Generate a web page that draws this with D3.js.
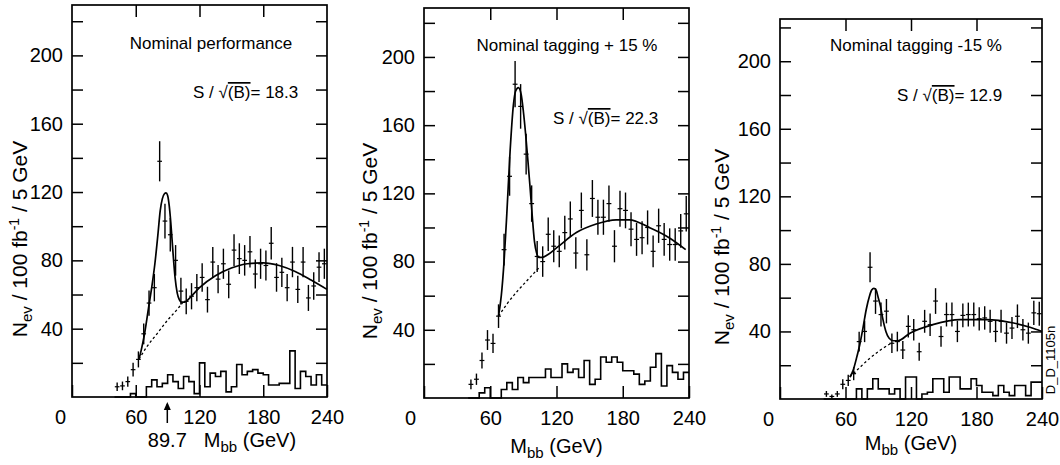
<!DOCTYPE html>
<html>
<head>
<meta charset="UTF-8">
<script src="https://d3js.org/d3.v7.min.js"></script>
<style>
  body { margin: 0; background: #fff; }
  svg text { font-family: "Liberation Sans", Arial, sans-serif; fill: #000; }
  .frame { fill: none; stroke: #000; stroke-width: 1.7; }
  .axis path { display: none; }
  .axis line { stroke: #000; stroke-width: 1.5; }
  .axis text { font-size: 20px; font-family: "Liberation Sans", Arial, sans-serif; }
</style>
</head>
<body>
<svg id="chart" width="1060" height="465"></svg>
<script>
// bin centres (5 GeV bins)
const binCenters = [42.5, 47.5, 52.5, 57.5, 62.5, 67.5, 72.5, 77.5, 82.5, 87.5,
  92.5, 97.5, 102.5, 107.5, 112.5, 117.5, 122.5, 127.5, 132.5, 137.5,
  142.5, 147.5, 152.5, 157.5, 162.5, 167.5, 172.5, 177.5, 182.5, 187.5,
  192.5, 197.5, 202.5, 207.5, 212.5, 217.5, 222.5, 227.5, 232.5, 237.5];

// events per bin, one list per panel
const counts1 = [6, 6.5, 9, 16, 22, 37, 55, 64, 138, 103,
  95, 80, 62, 56, 59, 64, 70, 57, 79, 69,
  78, 66, 86, 81, 80, 85, 72, 78, 77, 90,
  70, 73, 64, 79, 63, 79, 58, 65, 76, 78];
const counts2 = [8, 11, 22, 34, 32, 48, 87, 130, 184, 171,
  143, 114, 83, 80, 96, 89, 86, 97, 105, 85,
  110, 84, 117, 106, 106, 114, 89, 111, 110, 99,
  93, 94, 100, 86, 101, 93, 90, 90, 98, 108];
const counts3 = [3, 1.5, 3, 8.7, 11, 15, 34, 40, 78, 58,
  50, 52, 33, 34, 29, 43, 41, 28, 46, 44,
  58, 37, 50, 50, 40, 49.5, 50, 50, 47.5, 48,
  46, 40, 46, 39, 42, 49, 41, 39, 51, 50.5];

// signal-region histograms (same 40 bins)
const hist1 = [0, 0, 0, 2, 0, 0, 6, 10, 6, 8,
  13, 9, 5, 12, 9, 2, 20, 6, 14, 12,
  15, 3, 6, 19, 13, 15, 16, 14, 13, 7,
  7, 8, 8, 27, 5, 15, 12, 7, 13, 7];
const hist2 = [0, 0, 3, 6, 0, 0, 5, 9, 5, 12,
  9, 12, 12, 12, 17, 12, 12, 20, 15, 17,
  12, 22, 8, 11, 24, 21, 24, 21, 16, 16,
  14, 8, 10, 18, 26, 7, 19, 15, 11, 15];
const hist3 = [0, 0, 0, 0, 0, 0, 6, 0, 6, 12,
  6, 6, 3, 6, 0, 13, 13, 0, 3, 4,
  12, 12, 4, 13, 13, 6, 6, 12, 8, 4,
  4, 2, 8, 4, 2, 8, 8, 2, 10, 10];

// fitted curves
const fit1X = [63, 65, 68, 72, 75, 78, 81, 83, 85, 87, 88.5, 90, 91.5, 93, 95, 97, 99, 101, 103, 106, 110, 120, 135, 150, 165, 180, 195, 210, 225, 240];
const fit1Y = [22, 27, 36, 52, 64, 78, 96, 109, 116, 119, 119.5, 118, 112, 102, 85, 70, 61, 57, 55.5, 55.5, 57.5, 64, 71, 75.5, 78, 78.5, 77, 73.5, 68.5, 63];
const bkg1X = [63, 70, 80, 90, 100, 105];
const bkg1Y = [22, 29, 37, 45, 52, 56];

const fit2X = [67.5, 70, 72.5, 75, 78, 81, 83, 85.5, 88, 90, 92, 94, 96, 98, 100, 102, 104, 107, 112, 120, 138, 156, 174, 186, 204, 222, 237];
const fit2Y = [48, 60, 80, 108, 145, 172, 180, 182, 178, 168, 155, 140, 124, 107, 92, 85, 82.5, 82.5, 84, 88, 97, 102, 104.5, 104.5, 100, 94, 87];
const bkg2X = [67.5, 75, 85, 95, 105];
const bkg2Y = [48, 55, 63, 70, 77];

const fit3X = [64, 67, 70, 73, 76, 79, 82, 84, 86, 88, 90, 92, 94, 97, 100, 104, 108, 119, 140, 165, 189, 214, 229, 240];
const fit3Y = [13, 17, 24, 32, 42, 53, 61, 64.5, 65.5, 64.5, 60, 55, 48, 40, 36, 34.5, 34.5, 39, 44, 47, 47, 45, 42.5, 40];
const bkg3X = [64, 72, 82, 92, 103];
const bkg3Y = [13, 18, 24, 29, 33.5];

const titles = ["Nominal performance", "Nominal tagging + 15 %", "Nominal tagging -15 %"];
const significance = ["18.3", "22.3", "12.9"];
const xTicks = [0, 60, 120, 180, 240];
const yTicks = [20, 40, 60, 80, 100, 120, 140, 160, 180, 200, 220];
const peakMass = 89.7;

const svg = d3.select("#chart");

// frame geometry of the three panels
const layout = [
  { left: 72, right: 327, top: 5, bottom: 397, yMax: 229.5, yLabelX: 27, title: [211, 49], sig: [193, 98], zeroDx: -12 },
  { left: 424, right: 689, top: 8, bottom: 398, yMax: 228.7, yLabelX: 377, title: [567, 51], sig: [553, 124], zeroDx: -14 },
  { left: 780, right: 1042, top: 19, bottom: 399, yMax: 225, yLabelX: 729, title: [916, 51], sig: [897, 101], zeroDx: -12 }
];

const panels = [
  { counts: counts1, hist: hist1, fitX: fit1X, fitY: fit1Y, bkgX: bkg1X, bkgY: bkg1Y },
  { counts: counts2, hist: hist2, fitX: fit2X, fitY: fit2Y, bkgX: bkg2X, bkgY: bkg2Y },
  { counts: counts3, hist: hist3, fitX: fit3X, fitY: fit3Y, bkgX: bkg3X, bkgY: bkg3Y }
];

panels.forEach((p, i) => {
  const L = layout[i];
  const x = d3.scaleLinear().domain([0, 240]).range([L.left, L.right]);
  const y = d3.scaleLinear().domain([0, L.yMax]).range([L.bottom, L.top]);
  const g = svg.append("g");

  // histogram as steps
  const steps = [];
  binCenters.forEach((c, k) => {
    steps.push([c - 2.5, p.hist[k]]);
    steps.push([c + 2.5, p.hist[k]]);
  });
  g.append("path")
    .attr("d", d3.line().x(d => x(d[0])).y(d => y(d[1]))(steps))
    .attr("fill", "none").attr("stroke", "#000").attr("stroke-width", 1.6);

  // background (dashed) and total fit (solid)
  const curve = d3.line().curve(d3.curveMonotoneX).x(d => x(d[0])).y(d => y(d[1]));
  g.append("path")
    .attr("d", curve(p.bkgX.map((v, k) => [v, p.bkgY[k]])))
    .attr("fill", "none").attr("stroke", "#000").attr("stroke-width", 1.3)
    .attr("stroke-dasharray", "2.5,2.5");
  g.append("path")
    .attr("d", curve(p.fitX.map((v, k) => [v, p.fitY[k]])))
    .attr("fill", "none").attr("stroke", "#000").attr("stroke-width", 1.7);

  // data points with poisson errors
  const pts = binCenters.map((c, k) => ({ m: c, n: p.counts[k] }));
  g.selectAll("line.err").data(pts).join("line").attr("class", "err")
    .attr("x1", d => x(d.m)).attr("x2", d => x(d.m))
    .attr("y1", d => y(d.n - Math.sqrt(d.n))).attr("y2", d => y(d.n + Math.sqrt(d.n)))
    .attr("stroke", "#000").attr("stroke-width", 1.4);
  g.selectAll("line.bin").data(pts).join("line").attr("class", "bin")
    .attr("x1", d => x(d.m - 2.2)).attr("x2", d => x(d.m + 2.2))
    .attr("y1", d => y(d.n)).attr("y2", d => y(d.n))
    .attr("stroke", "#000").attr("stroke-width", 1.2);

  // axes, ticks pointing inwards
  g.append("g").attr("class", "axis").attr("transform", `translate(${L.left},0)`)
    .call(d3.axisLeft(y).tickValues(yTicks).tickSize(-11).tickPadding(9)
      .tickFormat(d => (d % 40 === 0 ? d : "")));
  g.append("g").attr("class", "axis").attr("transform", `translate(${L.right},0)`)
    .call(d3.axisRight(y).tickValues(yTicks).tickSize(-11).tickFormat(""));
  g.append("g").attr("class", "axis").attr("transform", `translate(0,${L.top})`)
    .call(d3.axisTop(x).tickValues([60, 120, 180]).tickSize(-12).tickFormat(""));
  const bx = g.append("g").attr("class", "axis").attr("transform", `translate(0,${L.bottom})`)
    .call(d3.axisBottom(x).tickValues(xTicks).tickSize(-12).tickPadding(13));
  bx.selectAll(".tick text").filter(d => d === 0).attr("dx", L.zeroDx);

  g.append("rect").attr("class", "frame")
    .attr("x", L.left).attr("y", L.top)
    .attr("width", L.right - L.left).attr("height", L.bottom - L.top);

  // y label
  const yl = g.append("text")
    .attr("transform", `translate(${L.yLabelX},${(L.top + L.bottom) / 2 + 38}) rotate(-90)`)
    .attr("text-anchor", "middle").attr("font-size", 21);
  yl.append("tspan").text("N");
  yl.append("tspan").attr("font-size", 15).attr("dy", 5).text("ev");
  yl.append("tspan").attr("dy", -5).text(" / 100 fb");
  yl.append("tspan").attr("font-size", 14).attr("dy", -8).text("-1");
  yl.append("tspan").attr("dy", 8).text(" / 5 GeV");

  // x label
  const xl = g.append("text").attr("font-size", 20).attr("text-anchor", "middle");
  if (i === 0) {
    xl.attr("x", 250).attr("y", 447);
  } else {
    xl.attr("x", (L.left + L.right) / 2).attr("y", i === 1 ? 453 : 450);
  }
  xl.append("tspan").text("M");
  xl.append("tspan").attr("font-size", 15).attr("dy", 5).text("bb");
  xl.append("tspan").attr("dy", -5).text(" (GeV)");

  // panel title and significance
  g.append("text").attr("x", L.title[0]).attr("y", L.title[1])
    .attr("text-anchor", "middle").attr("font-size", 17).text(titles[i]);
  const s = g.append("text").attr("x", L.sig[0]).attr("y", L.sig[1]).attr("font-size", 17);
  s.append("tspan").text("S / \u221A");
  s.append("tspan").style("text-decoration", "overline").text("(B)");
  s.append("tspan").text("= " + significance[i]);

  if (i === 0) {
    // arrow marking the fitted peak
    const ax = x(peakMass);
    g.append("line").attr("x1", ax).attr("x2", ax).attr("y1", L.bottom + 26).attr("y2", L.bottom + 7)
      .attr("stroke", "#000").attr("stroke-width", 1.5);
    g.append("path")
      .attr("d", `M${ax},${L.bottom + 5}L${ax - 3.5},${L.bottom + 13}L${ax + 3.5},${L.bottom + 13}Z`)
      .attr("fill", "#000");
    g.append("text").attr("x", ax).attr("y", 447).attr("text-anchor", "middle")
      .attr("font-size", 20).text(peakMass);
  }
});

// figure id on the right edge
svg.append("text").attr("transform", "translate(1055,360) rotate(-90)")
  .attr("text-anchor", "middle").attr("font-size", 13).text("D_D_1105n");
</script>
</body>
</html>
